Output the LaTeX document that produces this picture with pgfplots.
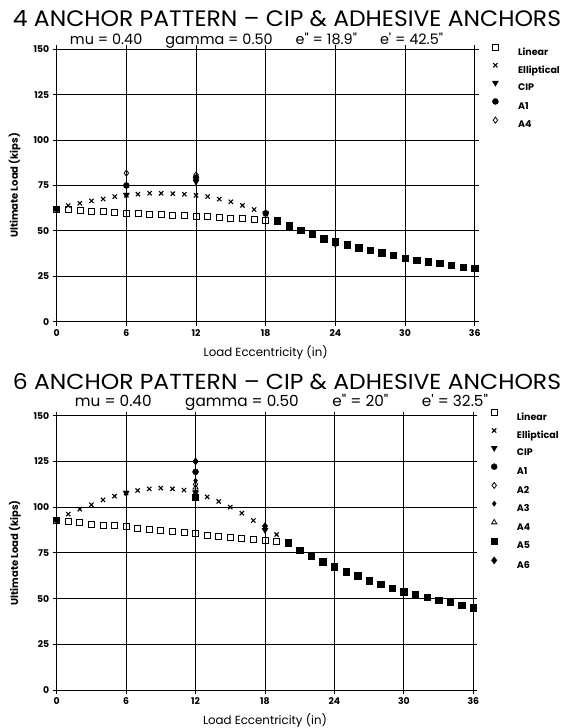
\documentclass[border=0pt]{standalone}
\usepackage{pgfplots}
\pgfplotsset{compat=1.18}
\usepackage{fontspec}
\setmainfont{Poppins}
\setsansfont{Poppins}
\usepackage{graphicx}

\pgfplotsset{
  myaxis/.style={
    scale only axis,
    xmin=0, xmax=36, ymin=0, ymax=150,
    xtick={0,6,...,36}, ytick={0,25,...,150},
    grid=major, major grid style={black, line width=0.9pt},
    axis line style={black, line width=1pt},
    tick align=outside, major tick length=4pt,
    tick style={black, line width=0.8pt},
    /pgf/number format/assume math mode=true,
    ticklabel style={font=\fontsize{9.3}{11}\selectfont\bfseries},
    xlabel={Load Eccentricity (in)},
    ylabel={Ultimate Load (kips)},
    every axis x label/.style={at={(axis description cs:0.5,0)}, anchor=north, yshift=-20pt, font=\fontsize{11.8}{14}\selectfont},
    every axis y label/.style={at={(axis description cs:-0.1005,0.5)}, rotate=90, anchor=center, font=\fontsize{10}{12}\selectfont\bfseries},
    legend cell align=left,
    legend image code/.code={\path (0pt,0pt) (26pt,0pt); \draw[##1] plot coordinates {(3.5pt,3.2pt)};},
    legend style={draw=none, fill=none, inner sep=0pt, column sep=0pt, row sep=8pt,
      font=\fontsize{9.5}{11}\selectfont\bfseries,
      nodes={inner sep=0pt, outer sep=0pt, text height=9pt, text depth=0pt}},
  },
  lin/.style={only marks, mark=square, mark size=3pt, black, mark options={line width=0.8pt}},
  ell/.style={only marks, mark=x, mark size=3pt, black, mark options={line width=1.1pt}},
  comb/.style={only marks, mark=square*, mark size=3.2pt, black},
  cip/.style={only marks, mark=triangle*, mark size=3.5pt, black, mark options={rotate=180}},
  aone/.style={only marks, mark=*, mark size=3pt, black},
  atwo/.style={only marks, mark=diamond, mark size=3pt, black, mark options={line width=0.8pt}},
  athree/.style={only marks, mark=diamond*, mark size=2.6pt, black},
  afour/.style={only marks, mark=triangle, mark size=3pt, black, mark options={line width=0.8pt}},
  afive/.style={only marks, mark=square*, mark size=3pt, black},
  asix/.style={only marks, mark=diamond*, mark size=3.6pt, black},
}

\begin{document}
\begin{tikzpicture}
\useasboundingbox (0pt,0pt) rectangle (566pt,728pt);

% ---------- Titles ----------
\node[anchor=base, inner sep=0pt] at (287pt,701.5pt)
  {\resizebox{548pt}{16pt}{4 ANCHOR PATTERN – CIP \& ADHESIVE ANCHORS}};
\node[anchor=base, inner sep=0pt] at (256.5pt,683.5pt)
  {\resizebox{373pt}{!}{mu = 0.40\hspace{1.6em}gamma = 0.50\hspace{1.6em}e\textquotedbl{} = 18.9\textquotedbl\hspace{1.6em}e\textquotesingle{} = 42.5\textquotedbl}};
\node[anchor=base, inner sep=0pt] at (287pt,338pt)
  {\resizebox{548pt}{16pt}{6 ANCHOR PATTERN – CIP \& ADHESIVE ANCHORS}};
\node[anchor=base, inner sep=0pt] at (281.5pt,321pt)
  {\resizebox{413pt}{!}{mu = 0.40\hspace{2.2em}gamma = 0.50\hspace{2.2em}e\textquotedbl{} = 20\textquotedbl\hspace{2.2em}e\textquotesingle{} = 32.5\textquotedbl}};

% ---------- Top chart ----------
\begin{axis}[myaxis,
  at={(56.7pt,406.3pt)}, anchor=south west,
  width=418pt, height=272.4pt,
  legend style={at={(axis description cs:1,1)}, anchor=north west, xshift=16.8pt, yshift=5pt},
]
\addplot[lin] coordinates {(0,62.1)(1,61.9)(2,61.4)(3,61.0)(4,60.6)(5,60.3)(6,59.9)(7,59.5)(8,59.2)(9,59.0)(10,58.8)(11,58.4)(12,58.2)(13,57.9)(14,57.3)(15,57.0)(16,56.8)(17,56.4)(18,56.0)};
\addlegendentry{Linear}
\addplot[ell] coordinates {(0,62.1)(1,63.9)(2,65.2)(3,66.5)(4,67.6)(5,68.9)(6,69.6)(7,70.2)(8,70.7)(9,70.7)(10,70.5)(11,70.2)(12,69.6)(13,68.9)(14,67.5)(15,66.0)(16,64.0)(17,61.8)(18,59.2)};
\addlegendentry{Elliptical}
\addplot[cip] coordinates {(0,62.1)(6,69.8)(12,77.1)(18,59.7)(24,42.6)};
\addlegendentry{CIP}
\addplot[aone] coordinates {(0,62.1)(6,75.0)(12,79.3)(18,59.7)};
\addlegendentry{A1}
\addplot[atwo] coordinates {(6,81.8)(12,80.8)};
\addlegendentry{A4}
\addplot[comb, forget plot] coordinates {(19,55.7)(20,52.9)(21,50.3)(22,48.2)(23,45.7)(24,44.0)(25,42.3)(26,40.8)(27,39.3)(28,37.9)(29,36.6)(30,35.1)(31,34.0)(32,33.1)(33,32.2)(34,31.1)(35,30.1)(36,29.4)};
\end{axis}

% ---------- Bottom chart ----------
\begin{axis}[myaxis,
  at={(56.7pt,38pt)}, anchor=south west,
  width=416.6pt, height=274.3pt,
  legend style={at={(axis description cs:1,1)}, anchor=north west, xshift=17pt, yshift=6.2pt},
]
\addplot[lin] coordinates {(0,93.0)(1,92.1)(2,91.4)(3,90.8)(4,90.1)(5,89.8)(6,89.2)(7,88.3)(8,87.7)(9,87.2)(10,86.7)(11,86.1)(12,85.4)(13,84.7)(14,84.1)(15,83.6)(16,82.8)(17,82.1)(18,81.7)(19,81.2)};
\addlegendentry{Linear}
\addplot[ell] coordinates {(0,93.0)(1,96.2)(2,98.9)(3,101.3)(4,104.0)(5,106.0)(6,107.7)(7,109.1)(8,110.0)(9,110.4)(10,110.0)(11,109.3)(12,108.2)(13,105.6)(14,103.1)(15,100.0)(16,96.7)(17,92.7)(18,88.5)(19,85.0)};
\addlegendentry{Elliptical}
\addplot[cip] coordinates {(0,93.0)(6,107.8)(12,108.0)(18,87.5)};
\addlegendentry{CIP}
\addplot[aone] coordinates {(0,93.0)(12,119.3)};
\addlegendentry{A1}
\addplot[atwo] coordinates {(12,112.5)};
\addlegendentry{A2}
\addplot[athree] coordinates {(12,114.5)};
\addlegendentry{A3}
\addplot[afour] coordinates {(12,110.7)};
\addlegendentry{A4}
\addplot[afive] coordinates {(12,105.3)};
\addlegendentry{A5}
\addplot[asix] coordinates {(12,125.0)(18,89.6)};
\addlegendentry{A6}
\addplot[comb, forget plot] coordinates {(20,80.6)(21,76.4)(22,73.5)(23,70.2)(24,67.5)(25,64.6)(26,62.4)(27,59.8)(28,57.8)(29,55.8)(30,53.8)(31,52.2)(32,50.7)(33,49.1)(34,48.0)(35,46.4)(36,45.0)};
\end{axis}
\end{tikzpicture}
\end{document}
